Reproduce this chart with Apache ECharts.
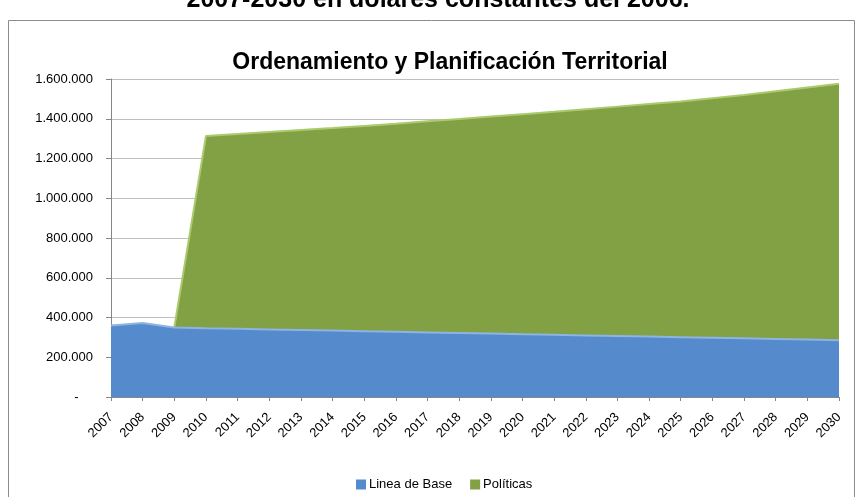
<!DOCTYPE html>
<html>
<head>
<meta charset="utf-8">
<script src="https://cdn.jsdelivr.net/npm/echarts@6/dist/echarts.min.js"></script>
<style>
html,body{margin:0;padding:0;background:#fff;}
#chart{width:857px;height:497px;}
</style>
</head>
<body>
<div id="chart"></div>
<script>
var years = ['2007','2008','2009','2010','2011','2012','2013','2014','2015','2016','2017','2018','2019','2020','2021','2022','2023','2024','2025','2026','2027','2028','2029','2030'];
var lineaDeBase = [360000,372000,350000,346000,343000,340000,337000,334000,331000,328000,325000,322000,319000,316000,313000,310000,307000,304000,301000,298000,295000,292000,289000,285000];
var politicas = ['-','-',0,967000,980000,993000,1006000,1019000,1033000,1047000,1062000,1077000,1092000,1107000,1122000,1138000,1154000,1170000,1186000,1205000,1225000,1246000,1268000,1291000];
var yTicks = [0,200000,400000,600000,800000,1000000,1200000,1400000,1600000];
var seriesNames = ['Linea de Base','Políticas'];
var chartTitle = 'Ordenamiento y Planificación Territorial';
var pageTitle = '2007-2030 en dólares constantes del 2006.';

function fmt(v){
  if (v === 0) return '-    ';
  return String(v).replace(/\B(?=(\d{3})+(?!\d))/g, '.');
}

var chart = echarts.init(document.getElementById('chart'), null, {renderer:'canvas'});
var font = 'Liberation Sans';
chart.setOption({
  animation:false,
  backgroundColor:'#ffffff',
  textStyle:{fontFamily:font},
  graphic:[
    {type:'rect', shape:{x:8.5,y:20.5,width:846,height:490}, style:{fill:'none', stroke:'#8c8c8c', lineWidth:1}, z:-10},
    {type:'text', x:438, y:-12, style:{text:pageTitle, font:'bold 25px "Liberation Sans"', fill:'#000', align:'center', verticalAlign:'top'}}
  ],
  title:{
    text:chartTitle,
    left:445, top:46, textAlign:'center',
    textStyle:{fontFamily:font, fontSize:23, fontWeight:'bold', color:'#000'}
  },
  legend:{
    left:351, top:473,
    itemWidth:10, itemHeight:10, itemGap:18,
    icon:'rect',
    textStyle:{fontFamily:font, fontSize:13, color:'#000', padding:[0,0,0,-2]},
    data:seriesNames
  },
  grid:{left:111, right:18, top:79, bottom:100, containLabel:false},
  xAxis:{
    type:'category', data:years, boundaryGap:false,
    axisLine:{show:true, lineStyle:{color:'#868686'}},
    axisTick:{show:true, alignWithLabel:true, interval:0, length:4, lineStyle:{color:'#868686'}},
    axisLabel:{interval:0, rotate:45, margin:18, fontSize:13, color:'#000', fontFamily:font},
    splitLine:{show:false}
  },
  yAxis:{
    type:'value', min:0, max:1600000, interval:200000,
    axisLine:{show:true, lineStyle:{color:'#868686'}},
    axisTick:{show:true, length:5, lineStyle:{color:'#868686'}},
    axisLabel:{formatter:fmt, fontSize:13, color:'#000', margin:18, fontFamily:font},
    splitLine:{show:true, lineStyle:{color:'#bfbfbf', width:1}}
  },
  series:[
    {
      name:seriesNames[0], type:'line', stack:'total', data:lineaDeBase,
      symbol:'none', smooth:false,
      itemStyle:{color:'#558ACC'},
      lineStyle:{color:'#8DB4E2', width:2},
      areaStyle:{color:'#558ACC', opacity:1},
      z:3
    },
    {
      name:seriesNames[1], type:'line', stack:'total', data:politicas,
      symbol:'none', smooth:false, connectNulls:false,
      itemStyle:{color:'#82A044'},
      lineStyle:{color:'#A9CB6B', width:2},
      areaStyle:{color:'#82A044', opacity:1},
      z:2
    }
  ]
});
</script>
</body>
</html>
